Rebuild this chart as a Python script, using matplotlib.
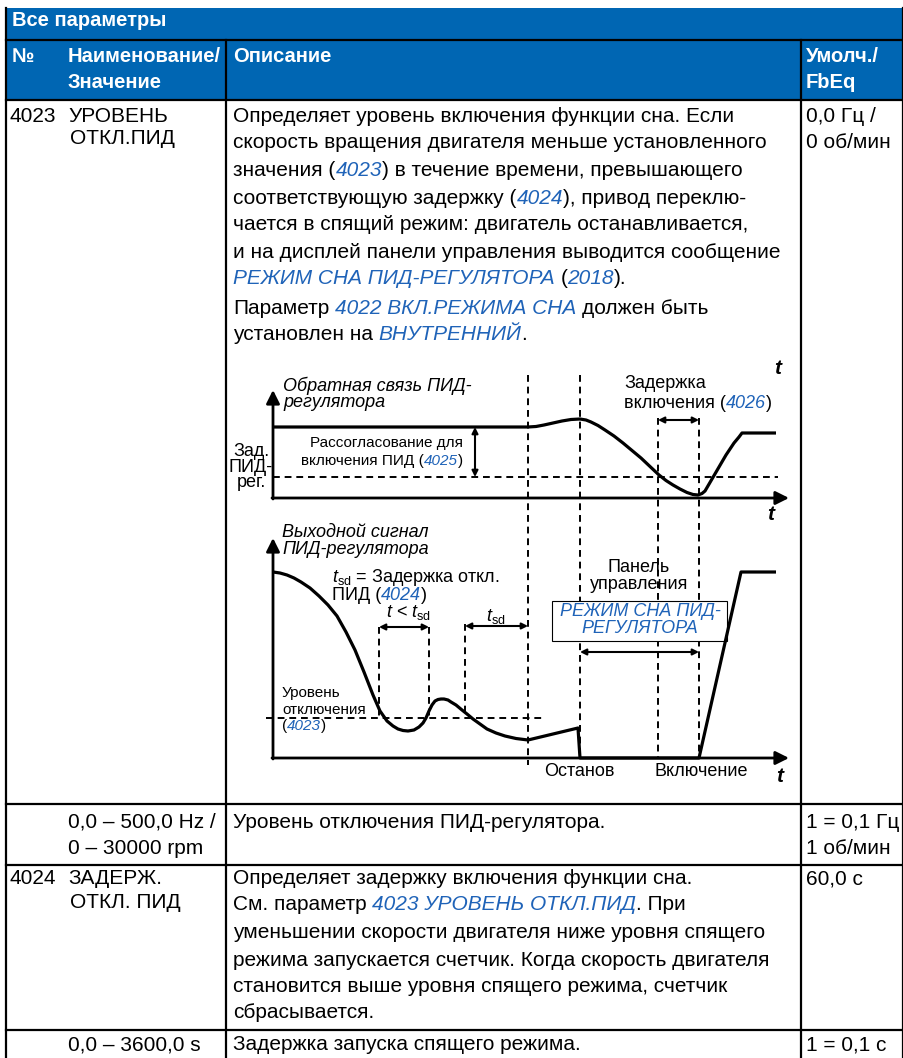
import matplotlib
matplotlib.use('Agg')
import matplotlib.pyplot as plt
from matplotlib.patches import Rectangle

plt.rcParams['font.family'] = ['Liberation Sans', 'DejaVu Sans']
plt.rcParams['mathtext.fontset'] = 'custom'
plt.rcParams['mathtext.rm'] = 'Liberation Sans'
plt.rcParams['mathtext.it'] = 'Liberation Sans:italic'

W, H = 904, 1058
HEAD_BLUE = '#0066b3'
LINK = '#1f63b8'

# ---- table content ----
header_title = 'Все параметры'
col_heads = [('№', 12), ('Наименование/\nЗначение', 68), ('Описание', 233), ('Умолч./\nFbEq', 806)]

# runs: (text, is_link)
desc_4023 = [
    [('Определяет уровень включения функции сна. Если', 0)],
    [('скорость вращения двигателя меньше установленного', 0)],
    [('значения (', 0), ('4023', 1), (') в течение времени, превышающего', 0)],
    [('соответствующую задержку (', 0), ('4024', 1), ('), привод переклю-', 0)],
    [('чается в спящий режим: двигатель останавливается,', 0)],
    [('и на дисплей панели управления выводится сообщение', 0)],
    [('РЕЖИМ СНА ПИД-РЕГУЛЯТОРА', 1), (' (', 0), ('2018', 1), (').', 0)],
    [('Параметр ', 0), ('4022 ВКЛ.РЕЖИМА СНА', 1), (' должен быть', 0)],
    [('установлен на ', 0), ('ВНУТРЕННИЙ', 1), ('.', 0)],
]
desc_4023_y = [116, 143, 170, 198, 225, 252, 279, 308, 334]

desc_4024 = [
    [('Определяет задержку включения функции сна.', 0)],
    [('См. параметр ', 0), ('4023 УРОВЕНЬ ОТКЛ.ПИД', 1), ('. При', 0)],
    [('уменьшении скорости двигателя ниже уровня спящего', 0)],
    [('режима запускается счетчик. Когда скорость двигателя', 0)],
    [('становится выше уровня спящего режима, счетчик', 0)],
    [('сбрасывается.', 0)],
]
desc_4024_y = [878, 905, 932, 960, 987, 1013]

# simple cells: (text, x, y)
cells = [
    ('4023', 10, 116), ('УРОВЕНЬ', 68, 116), ('ОТКЛ.ПИД', 70, 138),
    ('0,0 Гц /', 806, 117), ('0 об/мин', 806, 143),
    ('0,0 – 500,0 Hz /', 68, 822), ('0 – 30000 rpm', 68, 849),
    ('Уровень отключения ПИД-регулятора.', 233, 822),
    ('1 = 0,1 Гц', 806, 822), ('1 об/мин', 806, 848),
    ('4024', 10, 878), ('ЗАДЕРЖ.', 68, 878), ('ОТКЛ. ПИД', 70, 902),
    ('60,0 с', 806, 879),
    ('0,0 – 3600,0 s', 68, 1045), ('Задержка запуска спящего режима.', 233, 1045),
    ('1 = 0,1 с', 806, 1045),
]

# table grid
col_x = [6, 226, 801, 903]
row_y = [100, 804, 865, 1030]

# ---- diagram curves (page pixel coordinates) ----
fb_x = [273, 528, 536, 544, 553, 562, 571, 580, 586, 591, 598, 605, 614, 623, 632, 641, 650,
        659, 666, 673, 680, 687, 693, 698, 702, 705, 712, 719, 726, 734, 739, 742, 776]
fb_y = [427, 427, 426.5, 425, 423, 421, 419.5, 419, 420, 422, 425.5, 430, 436, 443, 450.5, 458,
        466.5, 475, 480.5, 485, 489, 492.5, 494.5, 495, 493.5, 491, 479, 467, 455, 443, 437, 433, 433]

out_x = [273, 280, 287, 294, 301, 310, 319, 328, 337, 346, 355, 364, 373, 380, 387, 393, 398,
         403, 408, 414, 419, 423, 426, 429, 432, 435, 438, 441, 444, 448, 451, 456, 462, 467,
         473, 480, 487, 496, 505, 516, 528, 578, 580, 699, 741, 776]
out_y = [572, 573, 575, 578, 582, 588, 596, 605, 616, 632, 650, 672, 695, 711, 721, 726, 729,
         730.5, 731, 730, 727, 723, 718, 711, 705, 701, 699.5, 699, 699, 700, 702, 705, 710, 714,
         719, 724, 729, 733, 736, 738.5, 740, 728, 758, 758, 572, 572]

fig = plt.figure(figsize=(W / 100, H / 100), dpi=100)
ax = fig.add_axes([0, 0, 1, 1])
ax.set_xlim(0, W)
ax.set_ylim(H, 0)
ax.axis('off')
renderer = fig.canvas.get_renderer()

FS = 15
HS = 14.5


def text_w(s, size, style='normal'):
    t = ax.text(0, 0, s, fontsize=size, style=style)
    w = t.get_window_extent(renderer).width
    t.remove()
    return w


def runs(x, y, parts, size=FS):
    sp = text_w('x x', size) - text_w('xx', size)
    for txt, link in parts:
        lead = len(txt) - len(txt.lstrip(' '))
        trail = len(txt) - len(txt.rstrip(' '))
        x += lead * sp
        core = txt.strip(' ')
        t = ax.text(x, y, core, fontsize=size, va='center', ha='left',
                    color=LINK if link else 'black',
                    style='italic' if link else 'normal')
        x += t.get_window_extent(renderer).width + trail * sp


# ---- table ----
ax.add_patch(Rectangle((col_x[0], 8), col_x[-1] - col_x[0], 92, fc=HEAD_BLUE, ec='none'))
ax.plot([col_x[0], col_x[-1]], [40, 40], color='black', lw=1.6)
for y in row_y:
    ax.plot([col_x[0], col_x[-1]], [y, y], color='black', lw=1.6)
ax.plot([col_x[0], col_x[0]], [8, H], color='black', lw=1.6)
ax.plot([col_x[-1], col_x[-1]], [8, H], color='black', lw=1.6)
for x in col_x[1:3]:
    ax.plot([x, x], [40, H], color='black', lw=1.6)

ax.text(12, 21, header_title, fontsize=HS, weight='bold', color='white', va='center')
for label, x in col_heads:
    ax.text(x, 47, label, fontsize=HS, weight='bold', color='white', va='top', linespacing=1.45)

for txt, x, y in cells:
    ax.text(x, y, txt, fontsize=FS, va='center')
for parts, y in zip(desc_4023, desc_4023_y):
    runs(233, y, parts)
for parts, y in zip(desc_4024, desc_4024_y):
    runs(233, y, parts)

# ---- diagram ----
DS = 13
dash = (0, (3.5, 2.5))
axis_kw = dict(arrowstyle='-|>', color='black', lw=2.0, mutation_scale=20, shrinkA=0, shrinkB=0)
dbl_kw = dict(arrowstyle='<|-|>', color='black', lw=1.5, mutation_scale=9, shrinkA=0, shrinkB=0)

# axes
ax.annotate('', xy=(273, 390), xytext=(273, 499), arrowprops=axis_kw)
ax.annotate('', xy=(789, 498), xytext=(272, 498), arrowprops=axis_kw)
ax.annotate('', xy=(273, 538), xytext=(273, 759), arrowprops=axis_kw)
ax.annotate('', xy=(789, 758), xytext=(272, 758), arrowprops=axis_kw)

# dashed guides
for x, y0, y1 in [(528, 375, 765), (580, 375, 758), (658, 418, 758), (699, 418, 758),
                  (379, 627, 718), (429, 627, 718), (465, 624, 711)]:
    ax.plot([x, x], [y0, y1], color='black', lw=1.4, ls=dash)
ax.plot([273, 778], [477, 477], color='black', lw=1.4, ls=dash)
ax.plot([266, 542], [718, 718], color='black', lw=1.4, ls=dash)

# message box
ax.add_patch(Rectangle((552, 601), 175, 40, fc='white', ec='black', lw=0.8, zorder=3))
ax.text(640, 620, 'РЕЖИМ СНА ПИД-\nРЕГУЛЯТОРА', fontsize=DS, style='italic', color=LINK,
        ha='center', va='center', linespacing=0.95, zorder=4)

# curves
ax.plot(fb_x, fb_y, color='black', lw=2.3, solid_capstyle='butt', solid_joinstyle='round', zorder=5)
ax.plot(out_x, out_y, color='black', lw=2.3, solid_capstyle='butt', solid_joinstyle='round', zorder=5)

# double arrows
ax.annotate('', xy=(475, 427), xytext=(475, 477), arrowprops=dbl_kw)
ax.annotate('', xy=(699, 420), xytext=(658, 420), arrowprops=dbl_kw)
ax.annotate('', xy=(429, 627), xytext=(379, 627), arrowprops=dbl_kw)
ax.annotate('', xy=(528, 626), xytext=(465, 626), arrowprops=dbl_kw)
ax.annotate('', xy=(699, 652), xytext=(580, 652), arrowprops=dbl_kw)

# labels
ax.text(283, 394, 'Обратная связь ПИД-\nрегулятора', fontsize=DS, style='italic',
        va='center', linespacing=0.95)
ax.text(282, 541, 'Выходной сигнал\nПИД-регулятора', fontsize=DS, style='italic',
        va='center', linespacing=0.95)
ax.text(251, 467, 'Зад.\nПИД-\nрег.', fontsize=DS, ha='center', va='center', linespacing=0.9)
runs(310, 443, [('Рассогласование для', 0)], size=11)
runs(301, 461, [('включения ПИД (', 0), ('4025', 1), (')', 0)], size=11)
ax.text(624, 383, 'Задержка', fontsize=DS, va='center')
runs(624, 403, [('включения (', 0), ('4026', 1), (')', 0)], size=DS)
runs(282, 693, [('Уровень', 0)], size=11)
runs(282, 710, [('отключения', 0)], size=11)
runs(282, 726, [('(', 0), ('4023', 1), (')', 0)], size=11)
ax.text(332, 577, r'$t_{\mathrm{sd}}$ = Задержка откл.', fontsize=DS, va='center')
runs(332, 596, [('ПИД (', 0), ('4024', 1), (')', 0)], size=DS)
ax.text(386, 613, r'$t$ < $t_{\mathrm{sd}}$', fontsize=DS, va='center')
ax.text(496, 617, r'$t_{\mathrm{sd}}$', fontsize=DS, va='center', ha='center')
ax.text(639, 576, 'Панель\nуправления', fontsize=DS, ha='center', va='center', linespacing=0.95)
ax.text(579, 772, 'Останов', fontsize=DS, ha='center', va='center')
ax.text(701, 772, 'Включение', fontsize=DS, ha='center', va='center')
for x, y in [(778, 368), (771, 514), (780, 777)]:
    ax.text(x, y, 't', fontsize=15, style='italic', weight='bold', ha='center', va='center')

fig.savefig('out.png', dpi=100)
